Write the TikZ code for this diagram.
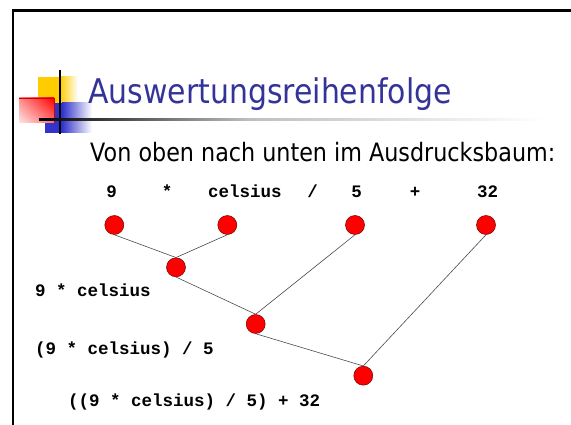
\documentclass[tikz,border=0pt]{standalone}
\usepackage{fontspec}
\usetikzlibrary{shadings}
\newfontfamily\slidefont[FakeStretch=0.88]{DejaVu Sans}
\newfontfamily\codefont{Liberation Mono}
\definecolor{titleblue}{HTML}{333399}
\definecolor{iconyellow}{HTML}{FFCC00}
\definecolor{iconblue}{HTML}{3333CC}
\tikzset{
  knot/.style={circle, fill=red, draw=red!45!black, line width=0.5pt, minimum size=19pt, inner sep=0pt},
  link/.style={draw=black!70, line width=0.6pt},
  term/.style={font=\codefont\bfseries\fontsize{17.5}{20}\selectfont, inner sep=0pt, anchor=base},
  expr/.style={term, anchor=base west},
}
\begin{document}
\begin{tikzpicture}[x=1pt, y=-1pt]
  \useasboundingbox (0,0) rectangle (571,425);
  \fill[white] (0,0) rectangle (571,425);
  \draw[line width=2.4pt] (12.8,425) -- (12.8,10.5) -- (571,10.5);
  % title icon
  \fill[iconyellow] (38,76.7) rectangle (60,103);
  \shade[left color=iconyellow, right color=white] (60,76.7) rectangle (78,103);
  \fill[iconblue] (45,103) rectangle (62,133);
  \shade[left color=iconblue, right color=white] (62,103) rectangle (92,133);
  \shade[upper left=red!45!white, upper right=red, lower left=red!10!white, lower right=red!55!white] (19,98) rectangle (54,123);
  \draw[red!80!black, line width=0.6pt] (19,98) -- (54,98) -- (54,123);
  \draw[line width=1.6pt] (60,70) -- (60,134);
  \shade[left color=black, right color=black!25] (39,118.7) rectangle (250,120.3);
  \shade[left color=black!25, right color=white] (250,118.7) rectangle (545,120.3);
  \node[font=\slidefont\fontsize{34}{37}\selectfont, text=titleblue, anchor=base west, inner sep=0pt] (title) at (88,103.3) {Auswertungsreihenfolge};
  \node[font=\slidefont\fontsize{25.3}{28}\selectfont, anchor=base west, inner sep=0pt] (sub) at (90,161.7) {Von oben nach unten im Ausdrucksbaum:};
  % expression
  \node[term] (t9) at (111.7,198) {9};
  \node[term] (tmul) at (167,198) {*};
  \node[term] (tcel) at (245,198) {celsius};
  \node[term] (tdiv) at (312.7,198) {/};
  \node[term] (t5) at (356.7,198) {5};
  \node[term] (tadd) at (415,198) {+};
  \node[term] (t32) at (487.5,198) {32};
  % tree
  \node[knot] (l9) at (114.3,225) {};
  \node[knot] (lcel) at (227.3,225) {};
  \node[knot] (l5) at (355,225) {};
  \node[knot] (l32) at (486,225) {};
  \node[knot] (nmul) at (176,267.3) {};
  \node[knot] (ndiv) at (255.7,324) {};
  \node[knot] (nadd) at (363.3,375.7) {};
  \draw[link] (l9.south) -- (nmul.north);
  \draw[link] (lcel.south) -- (nmul.north);
  \draw[link] (nmul.south) -- (ndiv.north);
  \draw[link] (l5.south) -- (ndiv.north);
  \draw[link] (ndiv.south) -- (nadd.north);
  \draw[link] (l32.south) -- (nadd.north);
  \node[expr] (e1) at (35,297) {9 * celsius};
  \node[expr] (e2) at (35,354) {(9 * celsius) / 5};
  \node[expr] (e3) at (68,406) {((9 * celsius) / 5) + 32};
\end{tikzpicture}
\end{document}
